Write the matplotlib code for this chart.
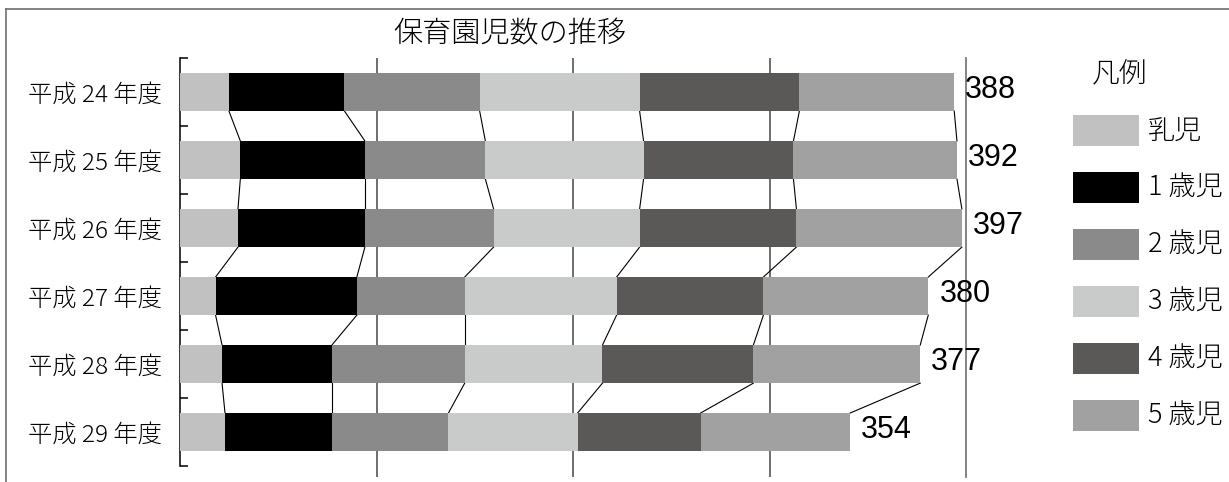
import numpy as np
import matplotlib
matplotlib.use('Agg')
from matplotlib import pyplot as plt
from matplotlib.patches import Rectangle
from matplotlib.lines import Line2D

plt.rcParams['font.family'] = ['Noto Sans CJK JP', 'DejaVu Sans']
plt.rcParams['font.weight'] = 'light'

# data
years = ['平成 24 年度', '平成 25 年度', '平成 26 年度', '平成 27 年度', '平成 28 年度', '平成 29 年度']
series_names = ['乳児', '1 歳児', '2 歳児', '3 歳児', '4 歳児', '5 歳児']
infant = [24.9, 30.7, 29.5, 18.1, 21.4, 22.9]
age1 = [58.8, 63.4, 64.6, 71.9, 55.9, 54.4]
age2 = [68.8, 61.3, 65.5, 54.9, 67.6, 59.3]
age3 = [81.4, 80.5, 74.3, 77.3, 70.1, 65.7]
age4 = [81.3, 76.3, 79.8, 74.7, 76.8, 62.6]
age5 = [78.8, 83.2, 84.2, 83.9, 84.9, 76.1]
total_labels = ['388', '392', '397', '380', '377', '354']

colors = ['#c0c1c0', '#000000', '#8a8a8a', '#c9cbca', '#5b5958', '#a0a1a0']

W, H = 1229, 482
fig = plt.figure(figsize=(W / 100, H / 100), dpi=100)
ax = fig.add_axes([180 / W, 5 / H, (966 - 180) / W, (482 - 58 - 5) / H])

values = np.array([infant, age1, age2, age3, age4, age5])
y = np.arange(len(years))
h = 0.56
left = np.zeros(len(years))
for vals, c in zip(values, colors):
    ax.barh(y, vals, left=left, height=h, color=c, edgecolor='none', zorder=3)
    left = left + vals

# series lines between bars
cum = np.cumsum(values, axis=0)
for row in cum:
    for i in range(len(years) - 1):
        ax.plot([row[i], row[i + 1]], [i + h / 2, i + 1 - h / 2], color='black', lw=0.8, zorder=2)

# totals
for i, lab in enumerate(total_labels):
    ax.annotate(lab, xy=(cum[-1][i], i), xytext=(8, 1.5), textcoords='offset points',
                va='center', ha='left', fontsize=22, fontweight='normal',
                family=['Liberation Sans', 'DejaVu Sans'])

ax.set_xlim(0, 400)
ax.set_ylim(5.66, -0.5)
ax.set_xticks([100, 200, 300])
ax.tick_params(axis='x', length=0, labelbottom=False)
ax.grid(axis='x', color='#555555', lw=1.2, zorder=1)
ax.set_axisbelow(True)

ax.set_yticks(y)
ax.set_yticklabels(years, fontsize=17.5)
ax.set_yticks(np.arange(-0.5, 6, 1), minor=True)
ax.tick_params(axis='y', which='major', length=0, pad=13)
ax.tick_params(axis='y', which='minor', direction='in', length=5.5, width=1.1, color='black')

ax.spines['top'].set_visible(False)
ax.spines['bottom'].set_visible(False)
ax.spines['left'].set_bounds(-0.5, 5.5)
ax.spines['left'].set_linewidth(1.1)
ax.spines['right'].set_color('#7a7a7a')
ax.spines['right'].set_linewidth(1.3)

# title
fig.text(510 / W, 1 - 34 / H, '保育園児数の推移', ha='center', va='center', fontsize=21)

# legend
fig.text(1120 / W, 1 - 74 / H, '凡例', ha='center', va='center', fontsize=20)
for k, (name, c) in enumerate(zip(series_names, colors)):
    yc = 130.3 + 57.1 * k
    fig.add_artist(Rectangle((1073 / W, 1 - (yc + 15.5) / H), 66 / W, 31 / H,
                             transform=fig.transFigure, facecolor=c, edgecolor='none'))
    fig.text(1148 / W, 1 - yc / H, name, ha='left', va='center', fontsize=19.5)

# outer frame
fig.add_artist(Line2D([6.5 / W, 6.5 / W], [0, 1 - 9 / H], transform=fig.transFigure, color='#6e6e6e', lw=1.2))
fig.add_artist(Line2D([6.5 / W, 1], [1 - 9 / H, 1 - 9 / H], transform=fig.transFigure, color='#6e6e6e', lw=1.2))

fig.savefig('out.png', dpi=100)
